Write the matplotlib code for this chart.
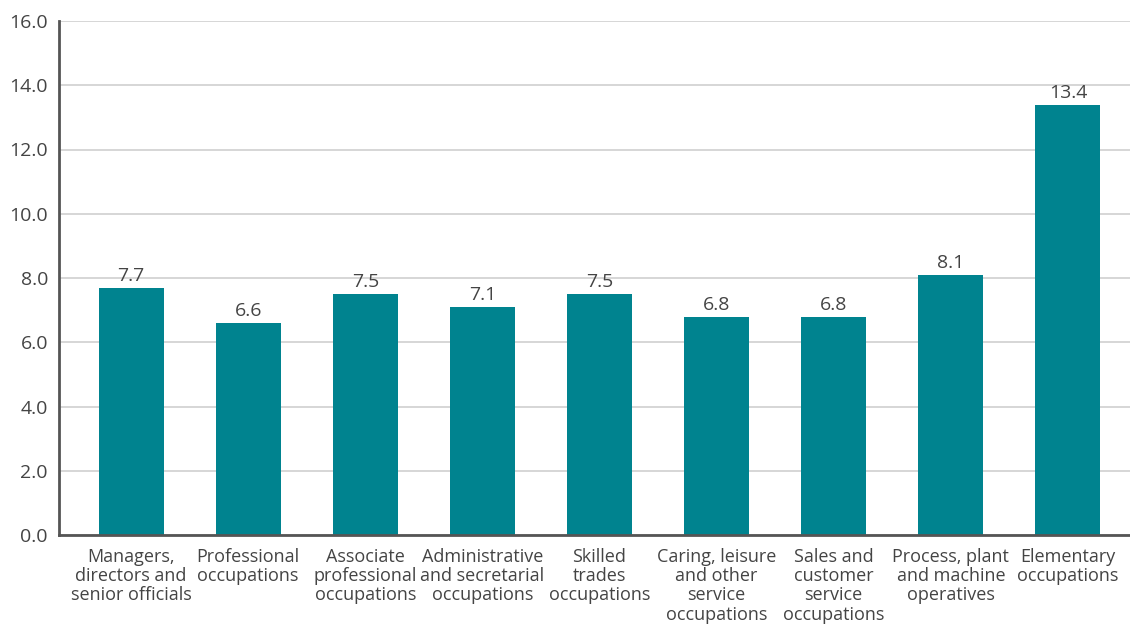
import matplotlib
matplotlib.use("Agg")
import matplotlib.pyplot as plt

categories = [
    "Managers,\ndirectors and\nsenior officials",
    "Professional\noccupations",
    "Associate\nprofessional\noccupations",
    "Administrative\nand secretarial\noccupations",
    "Skilled\ntrades\noccupations",
    "Caring, leisure\nand other\nservice\noccupations",
    "Sales and\ncustomer\nservice\noccupations",
    "Process, plant\nand machine\noperatives",
    "Elementary\noccupations",
]
values = [7.7, 6.6, 7.5, 7.1, 7.5, 6.8, 6.8, 8.1, 13.4]
yticks = [0, 2, 4, 6, 8, 10, 12, 14, 16]

plt.rcParams['font.family'] = ['Open Sans', 'DejaVu Sans']
text_color = "#444444"

fig = plt.figure(figsize=(11.30, 6.25), dpi=100)
ax = fig.add_axes([59/1130, 90/625, 1 - 59/1130, (535-21)/625])

x = list(range(len(categories)))
bars = ax.bar(x, values, width=0.555, color="#00838F", zorder=3)
for xi, v in zip(x, values):
    ax.text(xi, v + 0.08, f"{v:.1f}", ha="center", va="bottom",
            fontsize=14, color=text_color, zorder=4)

ax.set_xlim(-0.615, 8.53)
ax.set_ylim(0, 16)
ax.set_yticks(yticks)
ax.set_yticklabels([f"{t:.1f}" for t in yticks], fontsize=14, color=text_color)
ax.set_xticks(x)
ax.set_xticklabels(categories, fontsize=13, color=text_color, linespacing=1.1)
ax.tick_params(axis="both", length=0)
ax.tick_params(axis="y", pad=8)
ax.tick_params(axis="x", pad=9)
ax.yaxis.grid(True, color="#d0d0d0", linewidth=1.2, zorder=0)
ax.set_axisbelow(True)
for s in ["top", "right"]:
    ax.spines[s].set_visible(False)
for s in ["left", "bottom"]:
    ax.spines[s].set_color("#555555")
    ax.spines[s].set_linewidth(2)
    ax.spines[s].set_zorder(5)

fig.savefig("out.png", dpi=100)
